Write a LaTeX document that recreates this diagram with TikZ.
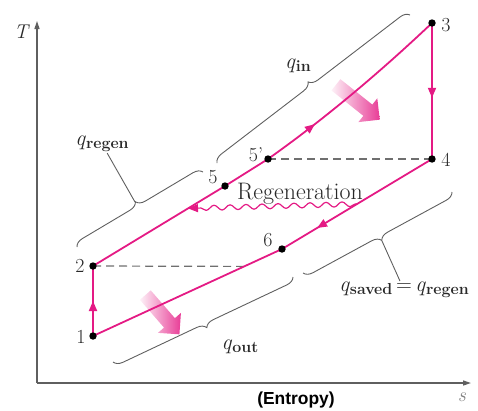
\documentclass[tikz,border=0pt]{standalone}
\usepackage{fontspec}
\newfontfamily\entfont{Liberation Sans}
\usetikzlibrary{arrows.meta, calc, shapes.arrows, decorations.markings, decorations.pathmorphing, decorations.pathreplacing}
\definecolor{cyclepink}{RGB}{228,26,132}
\definecolor{axisgray}{RGB}{95,95,95}
\definecolor{labgray}{RGB}{40,40,40}
\newcommand{\qsym}[1]{\textit{q}\raisebox{-0.3ex}{\fontsize{16}{16}\selectfont\bfseries #1}}

\begin{document}
\begin{tikzpicture}[x=1bp, y=-1bp,
  cyc/.style={draw=cyclepink, line width=1.8bp, line join=round},
  midarrow/.style={postaction={decorate, decoration={markings,
      mark=at position #1 with {\arrow{Triangle[length=10bp,width=8bp,color=cyclepink]}}}}},
  axis/.style={draw=axisgray, line width=1.4bp, -{Triangle[length=8bp,width=5bp]}},
  dashline/.style={draw=axisgray!90, line width=1.2bp, dash pattern=on 8bp off 5bp},
  bracegray/.style={draw=axisgray, line width=0.9bp, decorate, decoration={brace, amplitude=9bp}},
  leader/.style={draw=axisgray, line width=0.9bp},
  num/.style={font=\fontsize{20}{22}\selectfont, text=labgray, inner sep=1bp},
  qlab/.style={font=\fontsize{22}{24}\selectfont, text=labgray, inner sep=1bp},
  heat/.style={single arrow, draw=none, inner sep=7bp, single arrow head extend=8bp,
               single arrow head indent=0bp, minimum height=#1,
               left color=cyclepink!6, right color=cyclepink!85}
]
  \useasboundingbox (0,0) rectangle (478,410);

  % Axes
  \coordinate (origin) at (37,383);
  \coordinate (Ttip) at (37,21);
  \coordinate (stip) at (471,383);
  \draw[axis] (origin) -- (Ttip);
  \draw[axis] (origin) -- (stip);
  \node[num] (Tlab) at (22,32) {\textit{T}};
  \node[num, text=axisgray!80] (slab) at (462,397) {\textit{s}};
  \node[font={\entfont\bfseries\fontsize{17.5}{19}\selectfont}, text=black] (entropy) at (296,400) {(Entropy)};

  % State points
  \coordinate (p1) at (93,336);
  \coordinate (p2) at (93,266);
  \coordinate (p3) at (432,23);
  \coordinate (p4) at (432,159);
  \coordinate (p5) at (225,186);
  \coordinate (p5p) at (268,159);
  \coordinate (p6) at (282,249);

  % Dashed levels
  \draw[dashline] (p2) -- ($(p6)!0.2!(p1)$);
  \draw[dashline] (p5p) -- (p4);

  % Heat arrows
  \node[heat=56bp, rotate=-38.5] (qinarrow) at (355,100) {};
  \node[heat=52bp, rotate=-49] (qoutarrow) at (160,312) {};

  % Cycle
  \draw[cyc, midarrow=0.5] (p1) -- (p2);
  \draw[cyc, midarrow=0.63] (p2) -- (p5) -- (p5p) .. controls (323,120) and (377,75) .. (p3);
  \draw[cyc, midarrow=0.55] (p3) -- (p4);
  \draw[cyc, midarrow=0.35] (p4) -- (p6) -- (p1);

  % Regeneration
  \coordinate (regfrom) at ($(p4)!0.5!(p6)$);
  \coordinate (regto) at ($(p2)!0.72!(p5)$);
  \draw[cyc, line width=1.2bp, decorate, decoration={snake, amplitude=2.5bp, segment length=16bp,
        pre length=2bp, post length=9bp}, -{Triangle[length=10bp,width=8bp]}] (regfrom) -- (regto);
  \node[num, font=\fontsize{24}{26}\selectfont] (regen) at (300,194) {Regeneration};

  \foreach \p in {p1,p2,p3,p4,p5,p5p,p6}
    \fill (\p) circle[radius=3.7bp];

  % Point labels
  \node[num] (n1) at (81,337) {1};
  \node[num] (n2) at (80,266) {2};
  \node[num] (n3) at (446,25) {3};
  \node[num] (n4) at (446,160) {4};
  \node[num] (n5) at (213,177) {5};
  \node[num] (n5p) at (256,155) {5'};
  \node[num] (n6) at (268,240) {6};

  % Braces
  \draw[bracegray] (217,163) -- (410,15);
  \draw[bracegray] (77,247) -- (203,172);
  \draw[bracegray] (293,277) -- (113,362);
  \draw[bracegray] (452,192) -- (303,273);

  \node[qlab] (qin) at (298,66) {\qsym{in}};
  \node[qlab] (qout) at (240,347) {\qsym{out}};
  \node[qlab] (qregen) at (102,144) {\qsym{regen}};
  \node[qlab] (qsaved) at (404,290) {\qsym{saved}\,=\,\qsym{regen}};
  \draw[leader] (135,202) -- (qregen);
  \draw[leader] (382,241) -- (qsaved);
\end{tikzpicture}
\end{document}
